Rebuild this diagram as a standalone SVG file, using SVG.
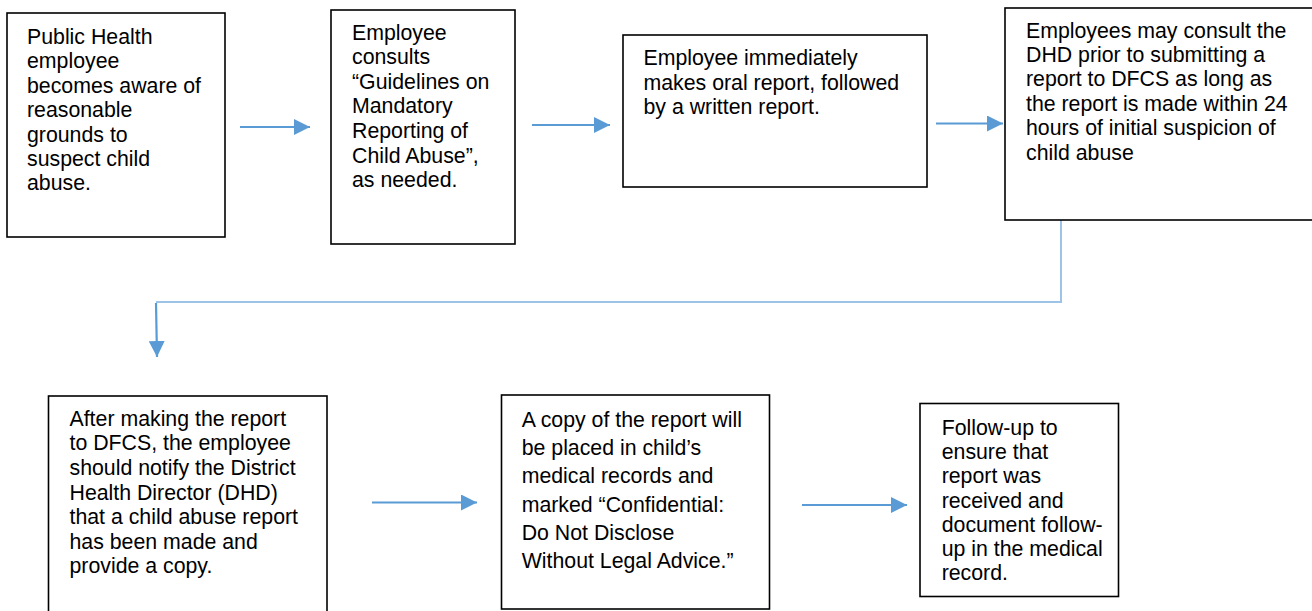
<svg xmlns="http://www.w3.org/2000/svg" width="1312" height="611" viewBox="0 0 1312 611">
<style>
.box{fill:#fff;stroke:#000;stroke-width:1.6}
.t{font-family:"Liberation Sans",Arial,sans-serif;font-size:21.3px;fill:#000}
.ar{fill:none;stroke:#5B9BD5;stroke-width:2.2}
.lt{fill:none;stroke:#9DC3E6;stroke-width:2}
</style>
<defs>
<marker id="ah" viewBox="0 0 16 16" refX="16" refY="8" markerWidth="16" markerHeight="16" markerUnits="userSpaceOnUse" orient="auto">
<path d="M0,0 L16,8 L0,16 Z" fill="#5B9BD5"/>
</marker>
</defs>
<rect width="1312" height="611" fill="#fff"/>
<g id="connectors">
<line class="ar" x1="240" y1="127" x2="310" y2="127" marker-end="url(#ah)"/>
<line class="ar" x1="532" y1="125" x2="610" y2="125" marker-end="url(#ah)"/>
<line class="ar" x1="936" y1="123.5" x2="1003" y2="123.5" marker-end="url(#ah)"/>
<path class="lt" d="M1061,220 V302 H156"/>
<line class="ar" x1="156" y1="303" x2="157" y2="357" marker-end="url(#ah)"/>
<line class="ar" x1="372" y1="502.5" x2="477" y2="502.5" marker-end="url(#ah)"/>
<line class="ar" x1="802" y1="505" x2="907" y2="505" marker-end="url(#ah)"/>
</g>
<g id="n1">
<rect class="box" x="7" y="13" width="218" height="224"/>
<text class="t" x="27" y="44"><tspan x="27">Public Health</tspan><tspan x="27" dy="24.4">employee</tspan><tspan x="27" dy="24.4">becomes aware of</tspan><tspan x="27" dy="24.4">reasonable</tspan><tspan x="27" dy="24.4">grounds to</tspan><tspan x="27" dy="24.4">suspect child</tspan><tspan x="27" dy="24.4">abuse.</tspan></text>
</g>
<g id="n2">
<rect class="box" x="331" y="10" width="184" height="234"/>
<text class="t" x="352" y="39.5"><tspan x="352">Employee</tspan><tspan x="352" dy="24.6">consults</tspan><tspan x="352" dy="24.6">“Guidelines on</tspan><tspan x="352" dy="24.6">Mandatory</tspan><tspan x="352" dy="24.6">Reporting of</tspan><tspan x="352" dy="24.6">Child Abuse”,</tspan><tspan x="352" dy="24.6">as needed.</tspan></text>
</g>
<g id="n3">
<rect class="box" x="623" y="35" width="304" height="152"/>
<text class="t" x="643.5" y="65"><tspan x="643.5">Employee immediately</tspan><tspan x="643.5" dy="24.5">makes oral report, followed</tspan><tspan x="643.5" dy="24.5">by a written report.</tspan></text>
</g>
<g id="n4">
<rect class="box" x="1005" y="8" width="320" height="212"/>
<text class="t" x="1026" y="37.5"><tspan x="1026">Employees may consult the</tspan><tspan x="1026" dy="24.4">DHD prior to submitting a</tspan><tspan x="1026" dy="24.4">report to DFCS as long as</tspan><tspan x="1026" dy="24.4">the report is made within 24</tspan><tspan x="1026" dy="24.4">hours of initial suspicion of</tspan><tspan x="1026" dy="24.4">child abuse</tspan></text>
</g>
<g id="n5">
<rect class="box" x="48.5" y="396" width="278.5" height="230"/>
<text class="t" x="69.5" y="425.7"><tspan x="69.5">After making the report</tspan><tspan x="69.5" dy="24.6">to DFCS, the employee</tspan><tspan x="69.5" dy="24.6">should notify the District</tspan><tspan x="69.5" dy="24.6">Health Director (DHD)</tspan><tspan x="69.5" dy="24.6">that a child abuse report</tspan><tspan x="69.5" dy="24.6">has been made and</tspan><tspan x="69.5" dy="24.6">provide a copy.</tspan></text>
</g>
<g id="n6">
<rect class="box" x="501.5" y="395" width="268" height="214"/>
<text class="t" x="521.7" y="426.7"><tspan x="521.7">A copy of the report will</tspan><tspan x="521.7" dy="28.3">be placed in child’s</tspan><tspan x="521.7" dy="28.3">medical records and</tspan><tspan x="521.7" dy="28.3">marked “Confidential:</tspan><tspan x="521.7" dy="28.3">Do Not Disclose</tspan><tspan x="521.7" dy="28.3">Without Legal Advice.”</tspan></text>
</g>
<g id="n7">
<rect class="box" x="920" y="403.5" width="198.5" height="193"/>
<text class="t" x="941.7" y="435"><tspan x="941.7">Follow-up to</tspan><tspan x="941.7" dy="24.2">ensure that</tspan><tspan x="941.7" dy="24.2">report was</tspan><tspan x="941.7" dy="24.2">received and</tspan><tspan x="941.7" dy="24.2">document follow-</tspan><tspan x="941.7" dy="24.2">up in the medical</tspan><tspan x="941.7" dy="24.2">record.</tspan></text>
</g>
</svg>
